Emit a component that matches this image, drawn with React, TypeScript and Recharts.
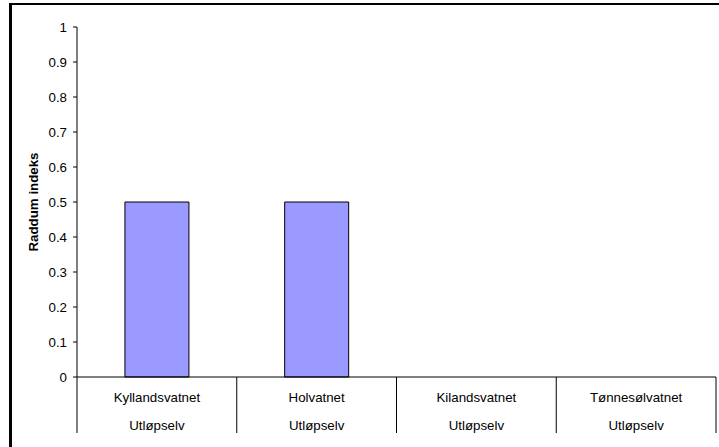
import { BarChart, Bar, XAxis, YAxis } from "recharts";

const lakes = ["Kyllandsvatnet", "Holvatnet", "Kilandsvatnet", "Tønnesølvatnet"];
const station = ["Utløpselv", "Utløpselv", "Utløpselv", "Utløpselv"];
const raddum = [0.5, 0.5, 0, 0];
const yTicks = [0, 0.1, 0.2, 0.3, 0.4, 0.5, 0.6, 0.7, 0.8, 0.9, 1];

const data = lakes.map((name, i) => ({ name, station: station[i], value: raddum[i] }));

const FONT = "Liberation Sans, Arial, sans-serif";

function CategoryTick(props: any) {
  const { x, y, payload, index, width } = props;
  const half = payload.offset ?? width / lakes.length / 2;
  const isLast = index === lakes.length - 1;
  return (
    <g>
      <line x1={x - half} y1={y} x2={x - half} y2={y + 56} stroke="#000" />
      {isLast && <line x1={x + half} y1={y} x2={x + half} y2={y + 56} stroke="#000" />}
      <text x={x} y={y + 25} textAnchor="middle" fontSize={13.3} fontFamily={FONT} fill="#000">
        {payload.value}
      </text>
      <text x={x} y={y + 53} textAnchor="middle" fontSize={13.3} fontFamily={FONT} fill="#000">
        {data[index]?.station}
      </text>
    </g>
  );
}

export default function App() {
  return (
    <div style={{ position: "absolute", left: 0, top: 0, width: 719, height: 447, overflow: "hidden", background: "#fff" }}>
      <div
        style={{
          position: "absolute",
          left: 9,
          top: 3,
          width: 760,
          height: 500,
          borderLeft: "3px solid #000",
          borderTop: "2px solid #000",
        }}
      />
      <BarChart
        width={719}
        height={447}
        data={data}
        margin={{ top: 27, right: 3, bottom: 0, left: 0 }}
        barCategoryGap="30%"
        style={{ position: "absolute", left: 0, top: 0 }}
      >
        <XAxis
          dataKey="name"
          height={70}
          axisLine={{ stroke: "#000" }}
          tickLine={false}
          tickSize={0}
          tickMargin={0}
          interval={0}
          tick={<CategoryTick />}
        />
        <YAxis
          width={77}
          domain={[0, 1]}
          ticks={yTicks}
          interval={0}
          axisLine={{ stroke: "#000" }}
          tickLine={{ stroke: "#000" }}
          tickSize={4}
          tickMargin={6}
          tick={{ fontSize: 13.3, fontFamily: FONT, fill: "#000" }}
          label={{
            content: (p: any) => {
              const vb = p.viewBox;
              const cx = vb.x + 33;
              const cy = vb.y + vb.height / 2;
              return (
                <text
                  x={cx}
                  y={cy}
                  transform={`rotate(-90 ${cx} ${cy})`}
                  textAnchor="middle"
                  dominantBaseline="central"
                  fontSize={13.3}
                  fontWeight="bold"
                  fontFamily={FONT}
                  fill="#000"
                >
                  Raddum indeks
                </text>
              );
            },
          }}
        />
        <Bar dataKey="value" fill="#9999FF" stroke="#000" strokeWidth={1} isAnimationActive={false} />
      </BarChart>
    </div>
  );
}
